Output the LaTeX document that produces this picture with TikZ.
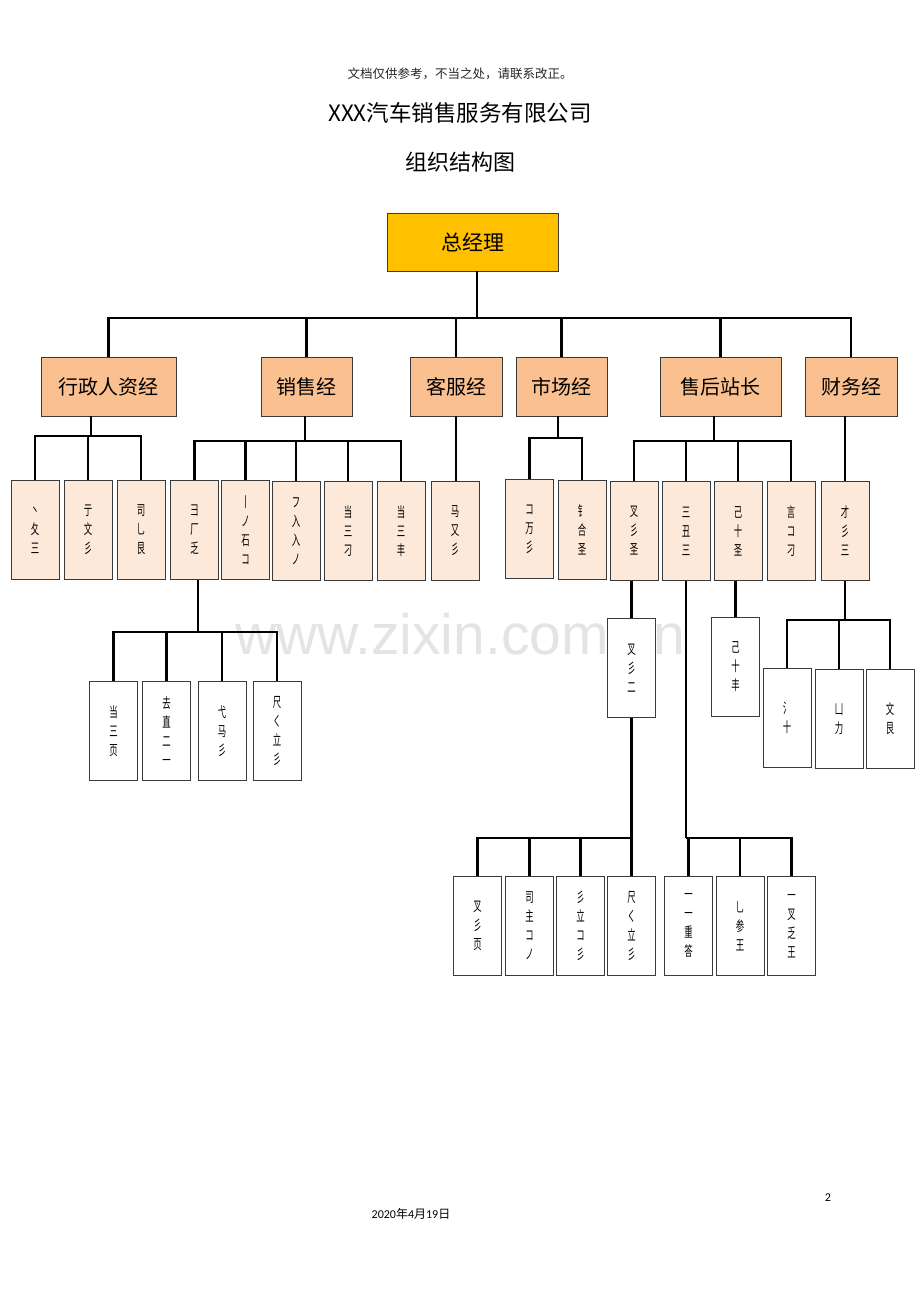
\documentclass[tikz,border=0pt]{standalone}
\usepackage{fontspec}
\usepackage{graphicx}
\setmainfont{Carlito}
\newfontfamily\cjk{Noto Sans CJK SC}
\newfontfamily\wmfont{Liberation Sans}
\definecolor{gold}{HTML}{FFC000}
\definecolor{peach}{HTML}{FAC090}
\definecolor{lpeach}{HTML}{FDE9D9}
\definecolor{boxline}{HTML}{3A3A3A}
\definecolor{wmgray}{HTML}{E4E4E4}
\newcommand\fq[1]{\scalebox{0.6}[1]{#1}}
\begin{document}
\begin{tikzpicture}[x=1pt,y=-1pt,
  conn/.style={line width=2.7pt,black,line join=miter},
  topbox/.style={draw=boxline,line width=0.8pt,fill=gold,minimum width=171pt,minimum height=58pt,inner sep=0pt,font=\cjk\fontsize{21}{21}\selectfont},
  midbox/.style={draw=boxline,line width=0.8pt,fill=peach,minimum height=59pt,inner sep=0pt,font=\cjk\fontsize{20}{20}\selectfont},
  smallbox/.style={draw=boxline,line width=0.8pt,fill=lpeach,minimum width=48pt,minimum height=99pt,inner sep=0pt,align=center,font=\cjk\fontsize{14}{19}\selectfont},
  wbox/.style={smallbox,fill=white}]
\useasboundingbox[fill=white] (0,0) rectangle (920,1302);

% watermark
\node[text=wmgray,font=\wmfont\fontsize{57}{57}\selectfont,inner sep=0pt] (wm) at (460,634) {www.zixin.com.cn};

% header texts
\node[font=\cjk\fontsize{12.5}{12.5}\selectfont,text=black!85,inner sep=0pt] (hdr) at (460,74) {文档仅供参考，不当之处，请联系改正。};
\node[font=\cjk\fontsize{22.5}{22.5}\selectfont,inner sep=0pt] (title) at (460,113) {XXX汽车销售服务有限公司};
\node[font=\cjk\fontsize{22}{22}\selectfont,inner sep=0pt] (sub) at (460,162) {组织结构图};
\node[font=\fontsize{12}{12}\selectfont,inner sep=0pt] (pg) at (828,1198) {2};
\node[font=\fontsize{12}{12}\selectfont,inner sep=0pt] (date) at (411,1214) {2020{\cjk 年}4{\cjk 月}19{\cjk 日}};

% top
\node[topbox] (top) at (472.5,242) {总经理};

% level 2
\node[midbox,minimum width=135pt] (a1) at (108.5,386.5) {行政人资经};
\node[midbox,minimum width=91pt] (a2) at (306.5,386.5) {销售经};
\node[midbox,minimum width=92pt] (a3) at (456,386.5) {客服经};
\node[midbox,minimum width=91pt] (a4) at (561.5,386.5) {市场经};
\node[midbox,minimum width=121pt] (a5) at (720.5,386.5) {售后站长};
\node[midbox,minimum width=92pt] (a6) at (851,386.5) {财务经};

% level 3
\node[smallbox] (b1) at (35,530) {\fq{丶}\\\fq{夂}\\\fq{三}};
\node[smallbox] (b2) at (88,530) {\fq{亍}\\\fq{文}\\\fq{彡}};
\node[smallbox] (b3) at (141,530) {\fq{司}\\\fq{乚}\\\fq{艮}};
\node[smallbox] (b4) at (194.5,530) {\fq{彐}\\\fq{厂}\\\fq{乏}};
\node[smallbox] (b5) at (245.5,530) {\fq{丨}\\\fq{ノ}\\\fq{石}\\\fq{コ}};
\node[smallbox] (b6) at (296,531) {\fq{フ}\\\fq{入}\\\fq{入}\\\fq{ノ}};
\node[smallbox] (b7) at (348,531) {\fq{当}\\\fq{三}\\\fq{刁}};
\node[smallbox] (b8) at (401,531) {\fq{当}\\\fq{三}\\\fq{丰}};
\node[smallbox] (b9) at (455,531) {\fq{马}\\\fq{又}\\\fq{彡}};
\node[smallbox] (b10) at (529.5,529) {\fq{コ}\\\fq{万}\\\fq{彡}};
\node[smallbox] (b11) at (582,530) {\fq{钅}\\\fq{合}\\\fq{圣}};
\node[smallbox] (b12) at (634,531) {\fq{叉}\\\fq{彡}\\\fq{圣}};
\node[smallbox] (b13) at (686,531) {\fq{三}\\\fq{丑}\\\fq{三}};
\node[smallbox] (b14) at (738,531) {\fq{己}\\\fq{十}\\\fq{圣}};
\node[smallbox] (b15) at (791,531) {\fq{言}\\\fq{コ}\\\fq{刁}};
\node[smallbox] (b16) at (845,531) {\fq{才}\\\fq{彡}\\\fq{三}};

% level 4 (white)
\node[wbox] (c1) at (113.5,731) {\fq{当}\\\fq{三}\\\fq{页}};
\node[wbox] (c2) at (166.5,731) {\fq{去}\\\fq{直}\\\fq{二}\\\fq{一}};
\node[wbox] (c3) at (222,731) {\fq{弋}\\\fq{马}\\\fq{彡}};
\node[wbox] (c4) at (277,731) {\fq{尺}\\\fq{く}\\\fq{立}\\\fq{彡}};
\node[wbox] (e1) at (631.5,668) {\fq{叉}\\\fq{彡}\\\fq{二}};
\node[wbox] (e2) at (735.5,667) {\fq{己}\\\fq{十}\\\fq{丰}};
\node[wbox] (f1) at (787,718) {\fq{氵}\\\fq{十}};
\node[wbox] (f2) at (839,719) {\fq{凵}\\\fq{力}};
\node[wbox] (f3) at (890,719) {\fq{文}\\\fq{艮}};
\node[wbox] (d1) at (477.5,926) {\fq{叉}\\\fq{彡}\\\fq{页}};
\node[wbox] (d2) at (529.5,926) {\fq{司}\\\fq{主}\\\fq{コ}\\\fq{ノ}};
\node[wbox] (d3) at (580.5,926) {\fq{彡}\\\fq{立}\\\fq{コ}\\\fq{彡}};
\node[wbox] (d4) at (631.5,926) {\fq{尺}\\\fq{く}\\\fq{立}\\\fq{彡}};
\node[wbox] (d5) at (688.5,926) {\fq{一}\\\fq{一}\\\fq{重}\\\fq{答}};
\node[wbox] (d6) at (740,926) {\fq{乚}\\\fq{参}\\\fq{王}};
\node[wbox] (d7) at (791.5,926) {\fq{一}\\\fq{叉}\\\fq{乏}\\\fq{王}};

% connectors
\coordinate (m0) at (477,318);
\draw[conn] (top.south -| m0) -- (m0);
\foreach \n in {a1,a2,a3,a4,a5,a6} \draw[conn] (\n.north) |- (m0);

\coordinate (m1) at (91,436);
\draw[conn] (a1.south -| m1) -- (m1);
\foreach \n in {b1,b2,b3} \draw[conn] (\n.north) |- (m1);

\coordinate (m2) at (305,441);
\draw[conn] (a2.south -| m2) -- (m2);
\foreach \n in {b4,b5,b6,b7,b8} \draw[conn] (\n.north) |- (m2);

\draw[conn] (a3.south) -- (a3.south |- b9.north);

\coordinate (m4) at (558,438);
\draw[conn] (a4.south -| m4) -- (m4);
\foreach \n in {b10,b11} \draw[conn] (\n.north) |- (m4);

\coordinate (m5) at (714,441);
\draw[conn] (a5.south -| m5) -- (m5);
\foreach \n in {b12,b13,b14,b15} \draw[conn] (\n.north) |- (m5);

\draw[conn] (a6.south -| b16.north) -- (b16.north);

\coordinate (m7) at (198,632);
\draw[conn] (b4.south -| m7) -- (m7);
\foreach \n in {c1,c2,c3,c4} \draw[conn] (\n.north) |- (m7);

\draw[conn] (b12.south -| e1.north) -- (e1.north);
\coordinate (m8) at (631.5,838);
\draw[conn] (e1.south) -- (m8);
\foreach \n in {d1,d2,d3,d4} \draw[conn] (\n.north) |- (m8);

\coordinate (m9) at (686,838);
\draw[conn] (b13.south) -- (m9);
\foreach \n in {d5,d6,d7} \draw[conn] (\n.north) |- (m9);

\draw[conn] (b14.south -| e2.north) -- (e2.north);

\coordinate (m10) at (845,620);
\draw[conn] (b16.south) -- (m10);
\foreach \n in {f1,f2,f3} \draw[conn] (\n.north) |- (m10);
\end{tikzpicture}
\end{document}
